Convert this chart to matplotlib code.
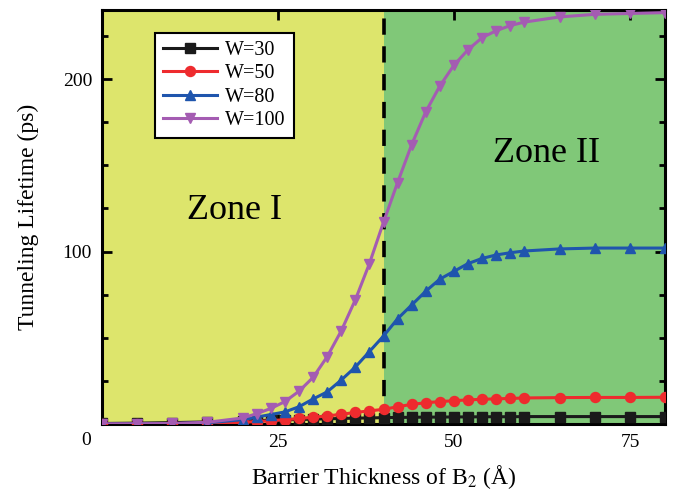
import matplotlib
matplotlib.use("Agg")
import matplotlib.pyplot as plt
from matplotlib.ticker import MultipleLocator, FixedLocator

# barrier thickness (angstrom)
thickness = [0, 5, 10, 15, 20, 22, 24, 26, 28, 30, 32, 34, 36, 38, 40,
             42, 44, 46, 48, 50, 52, 54, 56, 58, 60, 65, 70, 75, 80]

# tunneling lifetime (ps) for each well width
w30 = [0.3, 0.5, 0.8, 1.2, 1.7, 2.0, 2.2, 2.4, 2.6, 2.8, 3.0, 3.2, 3.4, 3.5, 3.7,
       3.8, 3.9, 4.0, 4.0, 4.1, 4.1, 4.2, 4.2, 4.2, 4.3, 4.3, 4.3, 4.3, 4.3]
w50 = [0.0, 0.0, 0.1, 0.3, 1.0, 1.4, 1.9, 2.5, 3.2, 3.9, 4.7, 5.6, 6.7, 7.6, 8.5,
       10.0, 11.4, 12.3, 13.0, 13.5, 14.0, 14.3, 14.6, 14.8, 15.1, 15.3, 15.4, 15.4, 15.5]
w80 = [0.0, 0.1, 0.2, 0.7, 2.5, 4.0, 5.5, 7.0, 10.0, 14.5, 18.6, 25.5, 33.0, 42.0, 51.0,
       61.0, 69.0, 77.0, 84.0, 88.5, 93.0, 96.0, 98.0, 99.3, 100.3, 101.5, 102.0, 102.0, 102.0]
w100 = [0.0, 0.1, 0.3, 1.0, 3.5, 6.0, 9.0, 13.0, 19.0, 27.0, 39.0, 54.0, 72.0, 93.0, 117.0,
        140.0, 162.0, 181.0, 196.0, 208.0, 217.0, 224.0, 228.0, 231.0, 233.0, 236.0, 237.5, 238.0, 238.5]

labels = ["W=30", "W=50", "W=80", "W=100"]
zone_split = 40

plt.rcParams['font.family'] = ['Liberation Serif', 'DejaVu Serif']
plt.rcParams['mathtext.fontset'] = 'stix'

fig = plt.figure(figsize=(6.74, 4.94), dpi=100)
ax = fig.add_axes([0.151, 0.1417, 0.836, 0.838])

ax.axvspan(0, zone_split, color='#dde56c', zorder=0, lw=0)
ax.axvspan(zone_split, 80, color='#80c878', zorder=0, lw=0)
ax.axvline(zone_split, color='black', lw=2.6, ls=(0, (4.5, 3.2)), zorder=1)

ax.plot(thickness, w30, color='#1a1a1a', marker='s', ms=6.5, lw=2.2, label=labels[0], zorder=3)
ax.plot(thickness, w50, color='#ee2b2e', marker='o', ms=7.2, lw=2.2, label=labels[1], zorder=3)
ax.plot(thickness, w80, color='#1f55ad', marker='^', ms=7.5, lw=2.2, label=labels[2], zorder=3)
ax.plot(thickness, w100, color='#a45cb2', marker='v', ms=7.5, lw=2.2, label=labels[3], zorder=3)

ax.set_xlim(0, 80)
ax.set_ylim(0, 240)
ax.xaxis.set_major_locator(FixedLocator([25, 50, 75]))
ax.yaxis.set_major_locator(FixedLocator([0, 100, 200]))
ax.yaxis.set_minor_locator(MultipleLocator(25))
ax.set_yticklabels(['', '100', '200'])
ax.text(-0.027, -0.039, '0', transform=ax.transAxes, ha='center', va='center', fontsize=14)

ax.tick_params(which='both', direction='in', top=True, right=True, labelsize=14, width=2)
ax.tick_params(which='major', length=7, pad=7)
ax.tick_params(which='minor', length=4)
for s in ax.spines.values():
    s.set_linewidth(2.2)

ax.set_xlabel(r'Barrier Thickness of B$_2$ (Å)', fontsize=17, labelpad=9)
ax.set_ylabel('Tunneling Lifetime (ps)', fontsize=17, labelpad=17)

ax.text(18.9, 124, 'Zone I', fontsize=26, ha='center', va='center')
ax.text(63.2, 157, 'Zone II', fontsize=26, ha='center', va='center')

leg = ax.legend(loc='upper left', bbox_to_anchor=(0.094, 0.944), borderaxespad=0,
                fontsize=14.5, handlelength=2.7, handletextpad=0.4, labelspacing=0.2,
                fancybox=False, framealpha=1, edgecolor='black')
leg.get_frame().set_linewidth(1.5)

fig.savefig('out.png', dpi=100)
